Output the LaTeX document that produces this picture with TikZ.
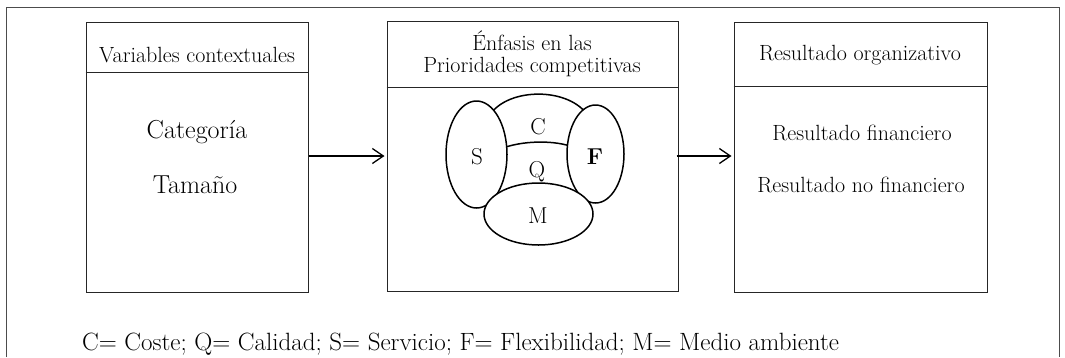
\documentclass[tikz,border=0pt]{standalone}
\usepackage{fontspec}
\usetikzlibrary{shapes.geometric,arrows.meta}
\begin{document}
\begin{tikzpicture}[x=1pt,y=-1pt,
  box/.style={draw=black!85,line width=1pt,minimum width=#1,minimum height=270pt,inner sep=0pt},
  oval/.style={draw=black,fill=white,line width=1.5pt,ellipse,inner sep=0pt},
  hdr/.style={font=\fontsize{22}{22}\selectfont,align=center,inner sep=0pt},
  big/.style={font=\fontsize{26}{30}\selectfont,inner sep=0pt},
  mid/.style={font=\fontsize{22}{26}\selectfont,inner sep=0pt},
  leg/.style={font=\fontsize{25}{30}\selectfont,inner sep=0pt},
  lbl/.style={font=\fontsize{23}{26}\selectfont,inner sep=0pt},
  conn/.style={line width=1.2pt,-{Straight Barb[length=11pt,width=15pt,line width=1.3pt]}},
  arc/.style={line width=1.5pt}]
\useasboundingbox (0,0) rectangle (1065,357);
% outer frame
\draw[black!70,line width=1pt] (6,357) -- (6,7) -- (1059,7) -- (1059,357);
% boxes
\node[box=222pt] (left) at (197,157) {};
\node[box=291pt] (center) at (532.5,156) {};
\node[box=253pt] (right) at (860.5,157) {};
\draw[black!85,line width=1pt] (left.west |- 0,72) -- (left.east |- 0,72);
\draw[black!85,line width=1pt] (center.west |- 0,87) -- (center.east |- 0,87);
\draw[black!85,line width=1pt] (right.west |- 0,86) -- (right.east |- 0,86);
% headers
\node[hdr] (h1) at (197,55) {Variables contextuales};
\node[hdr] (h2) at (532,54) {Énfasis en las\\Prioridades competitivas};
\node[hdr] (h3) at (860,55) {Resultado organizativo};
% left content
\node[big] (cat) at (197,132) {Categoría};
\node[big] (tam) at (195,185) {Tamaño};
% right content
\node[mid] (rf) at (862,133) {Resultado financiero};
\node[mid] (rnf) at (861,185) {Resultado no financiero};
% arcs between S and F
\draw[arc] (492,112) .. controls (512,88) and (566,88) .. (586,113);
\draw[arc] (503,148) .. controls (522,141) and (551,140) .. (570,146);
% ellipses
\node[oval,minimum width=61pt,minimum height=107pt] (S) at (476.5,154.5) {};
\node[oval,minimum width=57pt,minimum height=98pt] (F) at (595.5,154) {};
\node[oval,minimum width=109pt,minimum height=62pt] (M) at (538.5,214) {};
\node[lbl] (Sl) at (477,157) {S};
\node[lbl] (Fl) at (595,157) {\bfseries F};
\node[lbl] (Ml) at (538,216) {M};
\node[lbl] (Cl) at (538,127) {C};
\node[lbl] (Ql) at (537,172) {Q};
% connectors
\coordinate (a1) at (left.east |- 0,156);
\coordinate (a2) at ([xshift=-2pt]center.west |- 0,156);
\coordinate (b1) at ([xshift=-2pt]center.east |- 0,156);
\coordinate (b2) at ([xshift=-2pt]right.west |- 0,156);
\draw[conn] (a1) -- (a2);
\draw[conn] (b1) -- (b2);
% legend
\node[leg,anchor=base west] (legend) at (82,350) {C= Coste; Q= Calidad; S= Servicio; F= Flexibilidad; M= Medio ambiente};
\end{tikzpicture}
\end{document}
